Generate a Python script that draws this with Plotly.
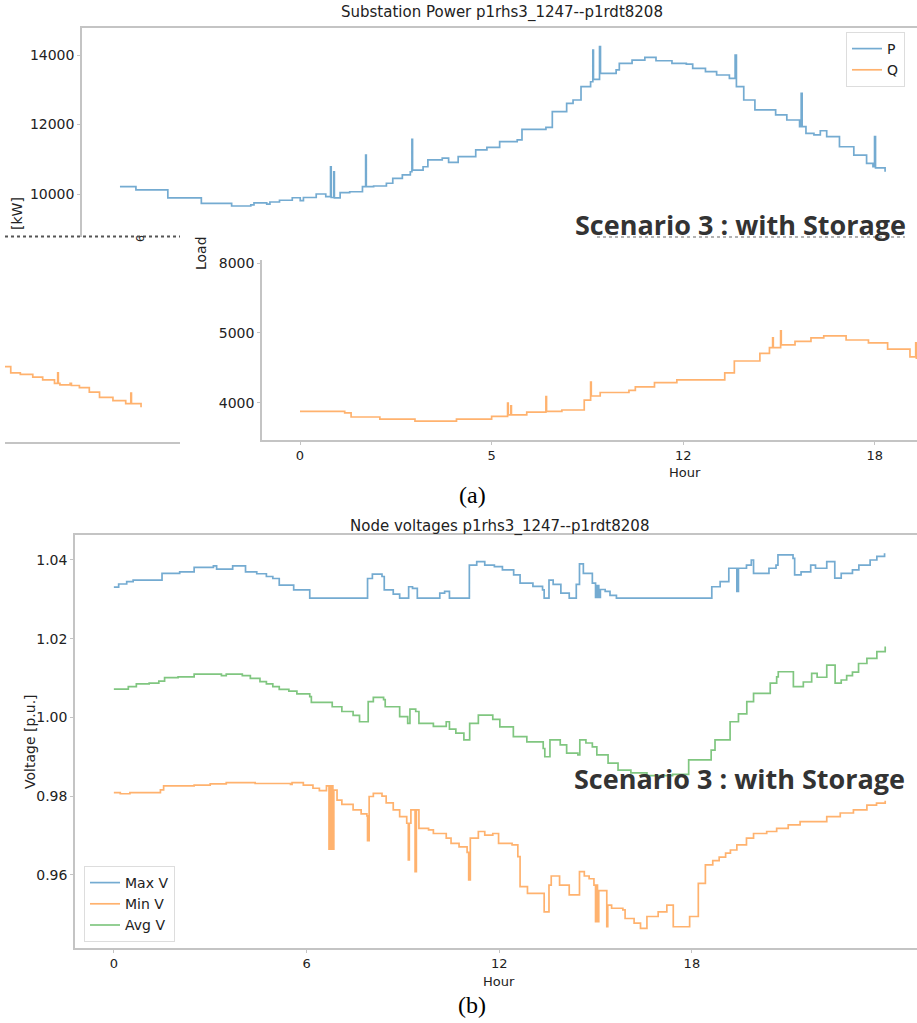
import plotly.graph_objects as go

# ------------------------------
# Data
# ------------------------------
# Substation active power P [kW] vs hour
p_hours = [0, 0.5, 1.5, 2.55, 3.5, 4.1, 4.2, 4.6, 4.7, 5.0, 5.4, 5.65, 5.75, 6.15, 6.45,
           6.6, 6.62, 6.7, 6.72, 6.9, 7.2, 7.6, 7.7, 7.72, 7.95, 8.35, 8.55, 8.85, 9.1,
           9.15, 9.17, 9.5, 9.65, 10.1, 10.3, 10.6, 11.15, 11.5, 11.9, 12.45, 12.6, 13.35,
           13.55, 14.0, 14.2, 14.45, 14.75, 14.82, 14.84, 15.03, 15.06, 15.55, 15.65, 16.05,
           16.45, 16.8, 17.3, 17.75, 17.95, 18.35, 18.7, 19.1, 19.28, 19.32, 19.55, 19.9,
           20.55, 20.9, 21.3, 21.35, 21.38, 21.5, 21.75, 21.95, 22.15, 22.55, 23.0, 23.4,
           23.6, 23.65, 23.68, 23.98]
p_kw = [10210, 10120, 9890, 9730, 9655, 9690, 9745, 9710, 9770, 9820, 9893, 9810, 9900, 10000, 9925,
        10785, 9900, 10640, 9890, 10040, 10065, 10210, 11120, 10210, 10230, 10310, 10450, 10550, 10640,
        11575, 10690, 10785, 10980, 11030, 10910, 11075, 11270, 11340, 11505, 11555, 11860, 11920,
        12370, 12610, 12705, 13090, 13230, 14140, 13300, 14240, 13470, 13570, 13760, 13855,
        13930, 13835, 13760, 13740, 13615, 13520, 13425, 13330, 14000, 13090, 12705, 12420,
        12275, 12130, 11940, 12900, 11940, 11745, 11700, 11820, 11650, 11360, 11120, 10880,
        10785, 11650, 10750, 10640]

# Substation reactive power Q vs hour
q_hours = [0, 1.4, 1.6, 2.5, 3.6, 4.9, 6.0, 6.5, 6.52, 6.6, 6.62, 7.1, 7.7, 7.72, 8.2, 8.9,
           9.1, 9.12, 9.4, 10.3, 10.5, 11.1, 11.8, 13.3, 13.6, 14.4, 14.7, 14.8, 14.82, 15.05,
           15.07, 15.5, 16.0, 16.4, 17.1, 17.8, 18.4, 19.1, 19.28, 19.3, 19.9, 20.2, 20.59,
           20.9, 21.27, 21.37, 21.39, 21.44, 21.76, 21.8, 22.05, 22.36, 22.68, 23.1, 23.5,
           23.66, 23.68, 23.98]
q_kvar = [3880, 3860, 3800, 3770, 3740, 3770, 3810, 4000, 3830, 3960, 3830, 3870, 4090, 3880, 3900, 4040,
          4300, 4100, 4150, 4180, 4230, 4290, 4330, 4430, 4600, 4710, 4790, 4930, 4790, 5030,
          4830, 4880, 4930, 4960, 4900, 4860, 4770, 4660, 4860, 4640, 4550, 4530, 4490,
          4450, 4400, 4550, 4400, 4380, 4400, 4370, 4340, 4275, 4200, 4155, 4110,
          4260, 4110, 4060]

# Node voltages [p.u.] vs hour
vmax_hours = [0, 0.15, 0.4, 0.6, 1.5, 2.05, 2.5, 3.1, 3.2, 3.7, 4.1, 4.45, 4.75, 4.95, 5.15, 5.6,
              6.1, 7.9, 8.05, 8.35, 8.42, 8.7, 8.9, 9.18, 9.3, 9.45, 10.15, 10.3, 10.45, 11.07,
              11.3, 11.55, 11.85, 12.1, 12.45, 12.65, 13.05, 13.35, 13.4, 13.55, 13.68, 13.92,
              14.18, 14.4, 14.5, 14.62, 14.9, 15.0, 15.05, 15.1, 15.15, 15.3, 15.45, 15.65,
              18.62, 18.88, 19.15, 19.4, 19.45, 19.7, 19.85, 19.92, 20.4, 20.62, 20.68, 21.15,
              21.2, 21.4, 21.7, 21.85, 22.2, 22.45, 22.65, 23.0, 23.2, 23.55, 23.76, 24.0]
vmax = [1.0331, 1.0339, 1.0345, 1.0349, 1.0366, 1.0370, 1.0381, 1.0385, 1.0377, 1.0385, 1.0370, 1.0365, 1.0358, 1.0353, 1.0336, 1.0324,
        1.0303, 1.0353, 1.0364, 1.0358, 1.0324, 1.0313, 1.0303, 1.0332, 1.0328, 1.0303, 1.0316, 1.0320, 1.0303, 1.0387,
        1.0396, 1.0387, 1.0383, 1.0375, 1.0362, 1.0341, 1.0333, 1.0324, 1.0303, 1.0349, 1.0338, 1.0316,
        1.0303, 1.0338, 1.0390, 1.0366, 1.0341, 1.0305, 1.0335, 1.0305, 1.0325, 1.0320, 1.0310, 1.0303,
        1.0332, 1.0345, 1.0379, 1.0320, 1.0379, 1.0387, 1.0400, 1.0366, 1.0379, 1.0387, 1.0413, 1.0404,
        1.0362, 1.0370, 1.0387, 1.0379, 1.0396, 1.0354, 1.0366, 1.0375, 1.0387, 1.0400, 1.0409, 1.0417]

vmin_hours = [0, 0.2, 0.5, 1.45, 1.55, 2.5, 3.0, 3.5, 4.4, 5.5, 5.55, 5.9, 6.2, 6.4, 6.62,
              6.7, 6.72, 6.75, 6.78, 6.82, 6.85, 6.95, 7.1, 7.45, 7.7, 7.88, 7.9, 7.95, 8.08,
              8.35, 8.48, 8.7, 8.9, 9.12, 9.17, 9.2, 9.25, 9.38, 9.42, 9.5, 9.8, 9.95, 10.35,
              10.5, 10.75, 11.0, 11.05, 11.1, 11.35, 11.55, 11.8, 11.98, 12.4, 12.58, 12.65,
              12.88, 13.4, 13.55, 13.62, 13.88, 14.18, 14.5, 14.65, 14.8, 14.95, 15.0, 15.03,
              15.06, 15.1, 15.35, 15.38, 15.5, 15.85, 15.92, 16.2, 16.4, 16.6, 16.95, 17.22,
              17.42, 17.93, 18.2, 18.42, 18.65, 18.85, 19.05, 19.2, 19.4, 19.7, 19.92, 20.33,
              20.64, 21.0, 21.37, 22.2, 22.62, 23.03, 23.45, 23.75, 24.02]
vmin = [0.9809, 0.9806, 0.9809, 0.9816, 0.9826, 0.9828, 0.9831, 0.9834, 0.9832, 0.9830, 0.9834, 0.9828, 0.9820, 0.9814, 0.9826,
        0.9665, 0.9826, 0.9665, 0.9826, 0.9665, 0.9815, 0.9790, 0.9779, 0.9765, 0.9755, 0.9750, 0.9687, 0.9799, 0.9807,
        0.9800, 0.9783, 0.9765, 0.9748, 0.9731, 0.9638, 0.9731, 0.9765, 0.9608, 0.9765, 0.9718, 0.9714, 0.9705, 0.9693,
        0.9680, 0.9671, 0.9657, 0.9587, 0.9693, 0.9710, 0.9701, 0.9705, 0.9680, 0.9676, 0.9646, 0.9570,
        0.9553, 0.9506, 0.9574, 0.9597, 0.9574, 0.9549, 0.9608, 0.9597, 0.9590, 0.9574, 0.9481, 0.9574,
        0.9481, 0.9560, 0.9468, 0.9523, 0.9515, 0.9511, 0.9489, 0.9477, 0.9464, 0.9494, 0.9506, 0.9523,
        0.9468, 0.9494, 0.9578, 0.9625, 0.9636, 0.9645, 0.9655, 0.9663, 0.9676, 0.9693, 0.9705, 0.9710,
        0.9718, 0.9727, 0.9735, 0.9748, 0.9757, 0.9765, 0.9777, 0.9782, 0.9788]

vavg_hours = [0, 0.45, 0.7, 1.1, 1.4, 1.58, 2.0, 2.5, 3.35, 3.5, 4.0, 4.25, 4.55, 4.75, 4.95,
              5.15, 5.45, 5.7, 6.1, 6.15, 6.8, 7.1, 7.45, 7.65, 7.92, 8.08, 8.4, 8.45, 8.9,
              9.15, 9.22, 9.4, 9.5, 9.95, 10.35, 10.45, 10.65, 10.9, 11.08, 11.35, 11.8, 12.02,
              12.44, 12.86, 13.37, 13.42, 13.58, 13.9, 14.1, 14.45, 14.51, 14.7, 14.9, 15.04,
              15.39, 15.7, 16.1, 16.6, 17.4, 17.9, 18.6, 18.72, 19.19, 19.45, 19.71, 19.92,
              20.44, 20.64, 20.69, 21.16, 21.47, 21.73, 21.9, 22.2, 22.46, 22.65, 22.82, 23.0,
              23.19, 23.45, 23.76, 24.02]
vavg = [1.0072, 1.0078, 1.0085, 1.0087, 1.0092, 1.0101, 1.0103, 1.0110, 1.0106, 1.0110, 1.0106, 1.0099, 1.0091, 1.0085, 1.0078,
        1.0071, 1.0067, 1.0060, 1.0053, 1.0038, 1.0027, 1.0015, 1.0005, 0.9989, 1.0040, 1.0051, 1.0045, 1.0027, 1.0002,
        0.9985, 1.0021, 1.0015, 0.9985, 0.9977, 0.9989, 0.9970, 0.9960, 0.9943, 0.9985, 1.0006, 0.9995, 0.9976,
        0.9951, 0.9938, 0.9921, 0.9900, 0.9943, 0.9930, 0.9909, 0.9905, 0.9943, 0.9935, 0.9925, 0.9905,
        0.9884, 0.9866, 0.9859, 0.9852, 0.9855, 0.9892, 0.9917, 0.9943, 0.9989, 1.0009, 1.0040, 1.0061,
        1.0087, 1.0103, 1.0116, 1.0078, 1.0090, 1.0112, 1.0102, 1.0133, 1.0087, 1.0095, 1.0106, 1.0115,
        1.0137, 1.0150, 1.0167, 1.0180]

hour_ticks = [0, 6, 12, 18]
hour_ticktext_q = ['0', '5', '12', '18']
p_ticks = [10000, 12000, 14000]
p_ticktext = ['10000', '12000', '14000']
q_ticks = [4000, 5000, 6000]
q_ticktext = ['4000', '5000', '8000']
v_ticks = [0.96, 0.98, 1.00, 1.02, 1.04]

# ------------------------------
W, H = 917, 1023


def fx(x):
    return x / W


def fy(y):
    return 1 - y / H


BLUE = 'rgba(31,119,180,0.62)'
ORANGE = 'rgba(255,127,14,0.6)'
GREEN = 'rgba(44,160,44,0.6)'
SPINE = '#c4c4c4'
TXT = '#222222'
FONT = 'DejaVu Sans'

fig = go.Figure()

fig.add_trace(go.Scatter(x=p_hours, y=p_kw, name='P', mode='lines', line=dict(color=BLUE, width=1.7, shape='hv'),
                         xaxis='x', yaxis='y', legend='legend'))
fig.add_trace(go.Scatter(x=q_hours, y=q_kvar, name='Q', mode='lines', line=dict(color=ORANGE, width=1.7, shape='hv'),
                         xaxis='x3', yaxis='y3', legend='legend'))
fig.add_trace(go.Scatter(x=q_hours, y=q_kvar, name='Q', mode='lines', line=dict(color=ORANGE, width=1.7, shape='hv'),
                         xaxis='x2', yaxis='y2', showlegend=False))
fig.add_trace(go.Scatter(x=vmax_hours, y=vmax, name='Max V', mode='lines', line=dict(color=BLUE, width=1.7, shape='hv'),
                         xaxis='x4', yaxis='y4', legend='legend2'))
fig.add_trace(go.Scatter(x=vmin_hours, y=vmin, name='Min V', mode='lines', line=dict(color=ORANGE, width=1.7, shape='hv'),
                         xaxis='x4', yaxis='y4', legend='legend2'))
fig.add_trace(go.Scatter(x=vavg_hours, y=vavg, name='Avg V', mode='lines', line=dict(color=GREEN, width=1.7, shape='hv'),
                         xaxis='x4', yaxis='y4', legend='legend2'))

tickfont = dict(family=FONT, size=14, color=TXT)
base = dict(showgrid=False, zeroline=False, automargin=False, linecolor=SPINE, linewidth=1.5,
            tickcolor=SPINE, ticklen=3, tickfont=tickfont)

fig.update_layout(
    width=W, height=H,
    margin=dict(l=0, r=0, t=0, b=0),
    paper_bgcolor='white', plot_bgcolor='white',
    # top panel : P
    xaxis=dict(base, domain=[fx(82), 1], anchor='y', range=[-1.19, 24.98], showline=True, side='top',
               showticklabels=False, ticks=''),
    yaxis=dict(base, domain=[fy(237), fy(28)], anchor='x', range=[8763, 14777], showline=True,
               tickvals=p_ticks, ticktext=p_ticktext, ticks='outside'),
    # left fragment : Q tail
    xaxis2=dict(base, domain=[fx(5), fx(180)], anchor='y2', range=[19.72, 25.2], showline=True,
                showticklabels=False, ticks=''),
    yaxis2=dict(base, domain=[fy(442), fy(238)], anchor='x2', range=[3564, 6474], visible=False),
    # middle panel : Q
    xaxis3=dict(base, domain=[fx(262), 1], anchor='y3', range=[-1.19, 19.32], showline=True,
                tickvals=hour_ticks, ticktext=hour_ticktext_q, ticks='outside',
                tickfont=dict(family=FONT, size=13, color=TXT)),
    yaxis3=dict(base, domain=[fy(440), fy(260)], anchor='x3', range=[3471, 6043], showline=True,
                tickvals=q_ticks, ticktext=q_ticktext, ticks='outside'),
    # bottom panel : voltages
    xaxis4=dict(base, domain=[fx(75), 1], anchor='y4', range=[-1.21, 25.01], showline=True, mirror=True,
                tickvals=hour_ticks, ticks='outside', tickfont=dict(family=FONT, size=13, color=TXT)),
    yaxis4=dict(base, domain=[fy(948), fy(535)], anchor='x4', range=[0.9414, 1.04635], showline=True,
                tickvals=v_ticks, tickformat='.2f', ticks='outside'),
    legend=dict(x=fx(846), y=fy(32), xanchor='left', yanchor='top', bgcolor='white',
                bordercolor='#dddddd', borderwidth=1, font=dict(family=FONT, size=14, color=TXT),
                itemwidth=30, tracegroupgap=2),
    legend2=dict(x=fx(84), y=fy(866), xanchor='left', yanchor='top', bgcolor='white',
                 bordercolor='#dddddd', borderwidth=1, font=dict(family=FONT, size=14, color=TXT),
                 itemwidth=30),
    showlegend=True,
)


def note(text, x, y, size=14, family=FONT, color=TXT, angle=0, xanchor='center', yanchor='middle'):
    fig.add_annotation(text=text, x=fx(x), y=fy(y), xref='paper', yref='paper', showarrow=False,
                       font=dict(family=family, size=size, color=color), textangle=angle,
                       xanchor=xanchor, yanchor=yanchor)


note('Substation Power p1rhs3_1247--p1rdt8208', 502, 13, size=15)
note('Node voltages p1rhs3_1247--p1rdt8208', 499, 526, size=15)
note('<b>Scenario 3 : with Storage</b>', 740, 224, size=27, family='Open Sans', color='#333333')
note('<b>Scenario 3 : with Storage</b>', 739, 778, size=27, family='Open Sans', color='#333333')
note('[kW]', 17, 214, size=14, angle=-90)
note('6', 140, 239, size=11, angle=-90)
note('Load', 201, 253, size=14, angle=-90)
note('Hour', 685, 472, size=13)
note('Hour', 499, 981, size=13)
note('Voltage [p.u.]', 30, 742, size=14, angle=-90)
note('(a)', 472, 495, size=24, family='Liberation Serif', color='#000000')
note('(b)', 472, 1005, size=24, family='Liberation Serif', color='#000000')

# dotted artefact lines under the top panel
fig.add_shape(type='line', xref='paper', yref='paper', x0=fx(5), x1=fx(180), y0=fy(236.5), y1=fy(236.5),
              line=dict(color='#555555', width=2, dash='dot'))
fig.add_shape(type='line', xref='paper', yref='paper', x0=fx(597), x1=fx(905), y0=fy(237), y1=fy(237),
              line=dict(color='#999999', width=1.5, dash='dot'))

# the page body has a default margin: drop it so the figure fills the window
fig.write_html("out.html", config={'displayModeBar': False},
               post_script="document.body.style.margin='0';document.body.style.overflow='hidden';")
